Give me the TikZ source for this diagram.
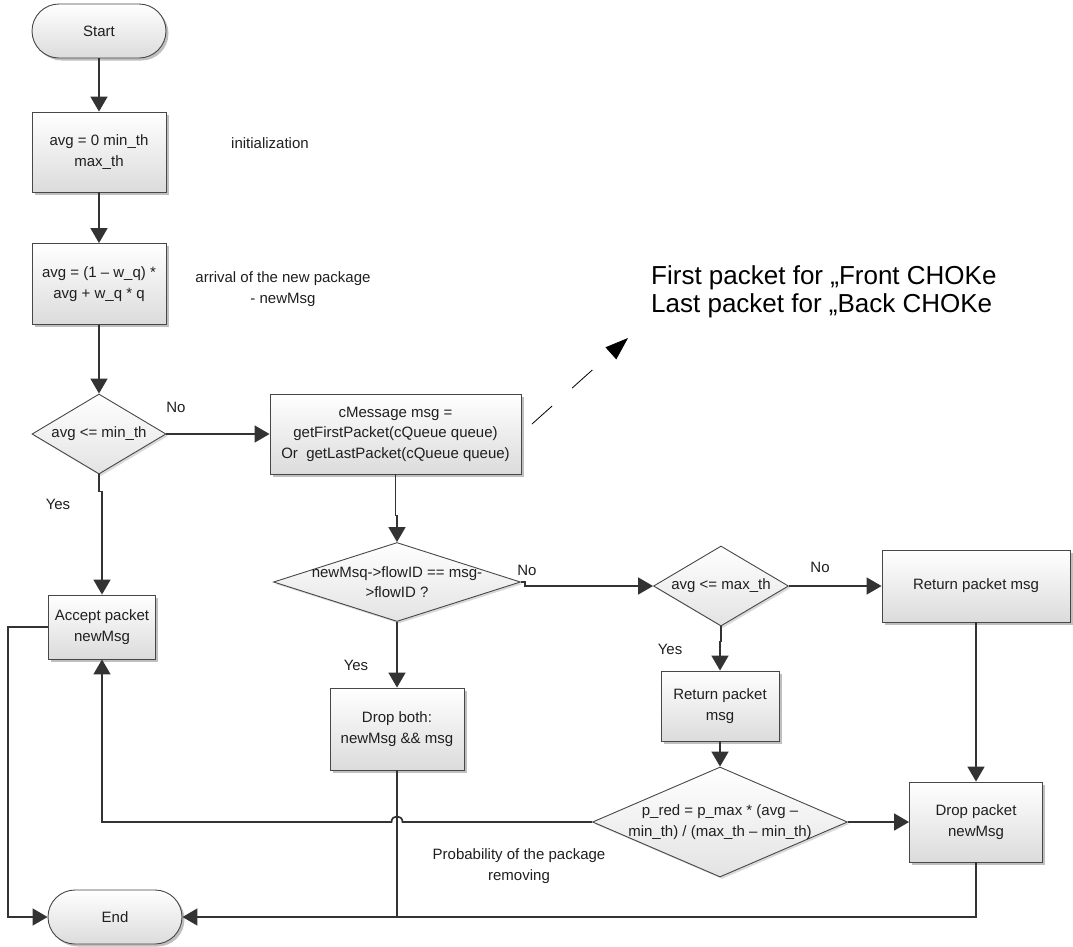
\documentclass[tikz,border=0pt]{standalone}
\usepackage{fontspec}
\setmainfont{Liberation Sans}
\usetikzlibrary{arrows.meta,shapes.geometric,shadows,calc}
\begin{document}
\begin{tikzpicture}[x=1pt,y=-1pt,
  every node/.style={font=\fontsize{15}{20.5}\selectfont, text=black!88},
  boxshadow/.style={drop shadow={shadow xshift=2.5pt, shadow yshift=-2.5pt, opacity=0.25, fill=black}},
  proc/.style={rectangle, draw=black!72, line width=0.9pt, top color=white, bottom color=black!14,
    align=center, inner sep=2pt, boxshadow},
  term/.style={proc, rounded corners=27pt, minimum width=134pt, minimum height=54pt},
  dec/.style={diamond, draw=black!72, line width=0.9pt, top color=white, bottom color=black!11,
    inner sep=0pt, drop shadow={shadow xshift=2pt, shadow yshift=-2pt, opacity=0.15, fill=black}},
  dtext/.style={align=center, font=\fontsize{15}{20.5}\selectfont},
  plain/.style={draw=black!80, line width=1.7pt},
  conn/.style={plain, -{Triangle[length=15pt,width=17pt]}},
  lbl/.style={inner sep=0pt}
]
\useasboundingbox (0,0) rectangle (1073,946);

% nodes
\node[term] (start) at (99,31) {Start};
\node[proc, minimum width=134pt, minimum height=80pt] (init) at (99,152) {avg = 0 min\_th\\max\_th};
\node[proc, minimum width=134pt, minimum height=81pt] (calc) at (99,284) {avg = (1 – w\_q) *\\avg + w\_q * q};
\node[dec, minimum width=134pt, minimum height=80pt,
  label={[dtext]center:avg <= min\_th}] (d1) at (99,434) {};
\node[proc, minimum width=251pt, minimum height=80pt] (cmsg) at (395.5,434)
  {cMessage msg =\\getFirstPacket(cQueue queue)\\Or~~getLastPacket(cQueue queue)};
\node[proc, minimum width=107pt, minimum height=64pt] (accept) at (102,627) {Accept packet\\newMsg};
\node[dec, minimum width=247pt, minimum height=79pt,
  label={[dtext]center:newMsq->flowID == msg-\\>flowID ?}] (d2) at (397,582) {};
\node[dec, minimum width=135pt, minimum height=80pt,
  label={[dtext]center:avg <= max\_th}] (d3) at (721,586) {};
\node[proc, minimum width=188pt, minimum height=72pt] (retR) at (976,586) {Return packet msg};
\node[proc, minimum width=134pt, minimum height=82pt] (dropboth) at (397,729) {Drop both:\\newMsg \&\& msg};
\node[proc, minimum width=118pt, minimum height=70pt] (retM) at (720,706) {Return packet\\msg};
\node[dec, minimum width=255pt, minimum height=110pt,
  label={[dtext]center:p\_red = p\_max * (avg –\\min\_th) / (max\_th – min\_th)}] (d4) at (720,822) {};
\node[proc, minimum width=133pt, minimum height=80pt] (drop) at (976,822) {Drop packet\\newMsg};
\node[term] (end) at (115,917) {End};

% free texts
\node (tinit) at (270,143) {initialization};
\node[align=center] (tarr) at (283,289) {arrival of the new package\\- newMsg};
\node[align=center] (tprob) at (519,866) {Probability of the package\\removing};
\node[font=\fontsize{26}{28}\selectfont, align=left, anchor=west, inner sep=0pt, text=black] (note) at (651,292)
  {First packet for „Front CHOKe\\Last packet for „Back CHOKe};

% edge labels
\node[lbl] (lno1) at (176,407) {No};
\node[lbl] (lyes1) at (58,504) {Yes};
\node[lbl] (lno2) at (527,570) {No};
\node[lbl] (lno3) at (820,567) {No};
\node[lbl] (lyes3) at (670,649) {Yes};
\node[lbl] (lyes2) at (356,665) {Yes};

% connectors
\draw[conn] (start) -- (init);
\draw[conn] (init) -- (calc);
\draw[conn] (calc) -- (d1);
\draw[conn] (d1) -- (cmsg);
\draw[conn] (d1.south) -- ++(0,17) -| (accept.north);
\draw[conn] (cmsg.south) -- ++(0,41) -| (d2.north);
\draw[conn] (d2.east) -- ++(4,0) |- (d3.west);
\draw[conn] (d3) -- (retR);
\draw[conn] (d3.south) -- ++(0,15) -| (retM.north);
\draw[conn] (retM) -- (d4);
\draw[conn] (retR) -- (drop);
\draw[conn] (d4) -- (drop);
\draw[conn] (d2) -- (dropboth);
\draw[plain] (dropboth.south) -- (dropboth.south |- end.east);
\draw[conn] (drop.south) |- (end.east);
\coordinate (jmp) at (dropboth.south |- d4.west);
\draw[conn] (d4.west) -- ($(jmp)+(5.5,0)$) .. controls ($(jmp)+(5.5,-7.5)$) and ($(jmp)+(-5.5,-7.5)$) .. ($(jmp)+(-5.5,0)$) -| (accept.south);
\draw[conn] (accept.west) -- ++(-40,0) |- (end.west);

% dashed pointer
\coordinate (ds) at (532,424);
\coordinate (de) at (628,338);
\draw[black, line width=0.8pt, dash pattern=on 27pt off 27pt, -{Triangle[length=23pt,width=16pt]}] (ds) -- (de);
\end{tikzpicture}
\end{document}
